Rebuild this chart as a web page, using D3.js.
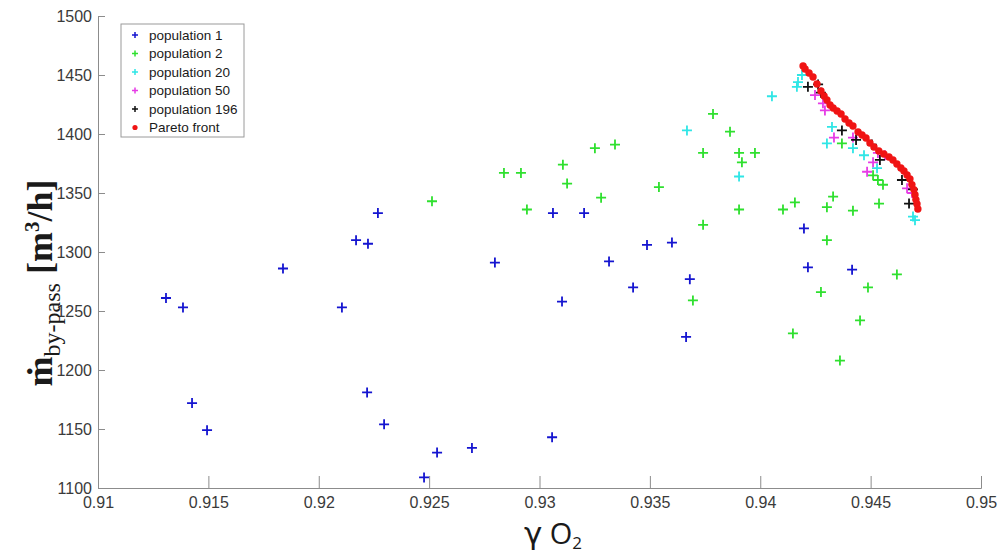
<!DOCTYPE html>
<html>
<head>
<meta charset="utf-8">
<script src="https://cdn.jsdelivr.net/npm/d3@7"></script>
<style>
  html, body { margin: 0; padding: 0; background: #ffffff; }
  svg { display: block; }
</style>
</head>
<body>
<svg id="chart" width="1008" height="556"></svg>
<script>
// Oxygen purity (γ O2) vs. by-pass mass flow for successive GA populations
const xTicks = [0.91, 0.915, 0.92, 0.925, 0.93, 0.935, 0.94, 0.945, 0.95];
const yTicks = [1100, 1150, 1200, 1250, 1300, 1350, 1400, 1450, 1500];

const pop1 = [
  [0.91308, 1261], [0.91385, 1253], [0.91426, 1172], [0.91494, 1149],
  [0.91838, 1286], [0.92105, 1253], [0.92169, 1310], [0.92223, 1307],
  [0.92268, 1333], [0.92219, 1181], [0.92296, 1154], [0.92477, 1109],
  [0.92536, 1130], [0.92694, 1134], [0.92798, 1291], [0.93057, 1143],
  [0.93061, 1333], [0.93102, 1258], [0.93202, 1333], [0.93315, 1292],
  [0.93424, 1270], [0.93487, 1306], [0.93600, 1308], [0.93664, 1228],
  [0.93681, 1277], [0.94198, 1320], [0.94216, 1287], [0.94416, 1285]
];

const pop2 = [
  [0.92513, 1343], [0.92839, 1367], [0.92916, 1367], [0.92943, 1336],
  [0.93106, 1374], [0.93125, 1358], [0.93251, 1388], [0.93342, 1391],
  [0.93279, 1346], [0.93541, 1355], [0.93741, 1384], [0.93786, 1417],
  [0.93741, 1323], [0.93695, 1259], [0.93863, 1402], [0.93904, 1384],
  [0.93976, 1384], [0.93917, 1376], [0.93904, 1336], [0.94103, 1336],
  [0.94157, 1342], [0.94330, 1347], [0.94302, 1338], [0.94420, 1335],
  [0.94538, 1341], [0.94302, 1310], [0.94619, 1281], [0.94488, 1270],
  [0.94275, 1266], [0.94452, 1242], [0.94148, 1231], [0.94361, 1208],
  [0.94370, 1392], [0.94511, 1365], [0.94533, 1361], [0.94556, 1357]
];

const pop20 = [
  [0.93668, 1403], [0.94053, 1432], [0.93904, 1364], [0.94171, 1444],
  [0.94166, 1440], [0.94189, 1450], [0.94325, 1406], [0.94302, 1392],
  [0.94420, 1388], [0.94470, 1382], [0.94529, 1371], [0.94692, 1330],
  [0.94701, 1327]
];

const pop50 = [
  [0.94248, 1433], [0.94293, 1420], [0.94284, 1426], [0.94334, 1397],
  [0.94420, 1397], [0.94484, 1368], [0.94511, 1376], [0.94565, 1382],
  [0.94533, 1384], [0.94665, 1354], [0.94688, 1350]
];

const pop196 = [
  [0.94216, 1440], [0.94262, 1442], [0.94275, 1435], [0.94370, 1403],
  [0.94434, 1395], [0.94506, 1391], [0.94542, 1378], [0.94642, 1361],
  [0.94692, 1353], [0.94674, 1341]
];

const pareto = [
  [0.94194, 1457.6], [0.94203, 1455.1], [0.94221, 1451.7], [0.94239, 1448.3],
  [0.94257, 1442.4], [0.94275, 1436.4], [0.94289, 1432.2], [0.94302, 1428.8],
  [0.94316, 1424.6], [0.94330, 1422.0], [0.94348, 1419.5], [0.94366, 1416.9],
  [0.94384, 1412.7], [0.94402, 1409.3], [0.94420, 1406.8], [0.94443, 1401.7],
  [0.94461, 1399.2], [0.94479, 1396.6], [0.94497, 1392.4], [0.94515, 1389.0],
  [0.94537, 1385.6], [0.94560, 1383.1], [0.94583, 1380.5], [0.94601, 1378.0],
  [0.94619, 1374.6], [0.94637, 1371.2], [0.94651, 1368.6], [0.94665, 1365.3],
  [0.94678, 1361.9], [0.94687, 1357.1], [0.94696, 1352.9], [0.94701, 1348.6],
  [0.94705, 1344.4], [0.94710, 1340.7], [0.94714, 1336.4]
];

const seriesNames = ["population 1", "population 2", "population 20",
                     "population 50", "population 196", "Pareto front"];
const seriesColors = ["#1515d0", "#2fe02f", "#2fe6e6", "#e63ce6", "#111111", "#f01414"];

const svg = d3.select("#chart");
const M = { left: 98, right: 981, top: 16, bottom: 488 };

const x = d3.scaleLinear().domain([0.91, 0.95]).range([M.left, M.right]);
const y = d3.scaleLinear().domain([1100, 1500]).range([M.bottom, M.top]);

const axisColor = "#8c8c8c";
const labelColor = "#3a3a3a";

// x axis, ticks pointing into the plot
const gx = svg.append("g").attr("transform", `translate(0,${M.bottom})`)
  .call(d3.axisBottom(x).tickValues(xTicks).tickSize(-12).tickPadding(9)
        .tickFormat(d => String(+d.toFixed(3))));
gx.select(".domain").attr("stroke", axisColor).attr("stroke-width", 1);
gx.selectAll(".tick line").attr("stroke", axisColor);
gx.selectAll(".tick text")
  .attr("fill", labelColor)
  .attr("font-family", "Liberation Sans, Arial, sans-serif")
  .attr("font-size", 16);

// y axis
const gy = svg.append("g").attr("transform", `translate(${M.left},0)`)
  .call(d3.axisLeft(y).tickValues(yTicks).tickSize(-7).tickPadding(6)
        .tickFormat(d3.format("d")));
gy.select(".domain").attr("stroke", axisColor).attr("stroke-width", 1);
gy.selectAll(".tick line").attr("stroke", axisColor);
gy.selectAll(".tick text")
  .attr("fill", labelColor)
  .attr("font-family", "Liberation Sans, Arial, sans-serif")
  .attr("font-size", 16);

// plus markers
const plusPath = s => `M${-s},0H${s}M0,${-s}V${s}`;

function drawPlus(data, color) {
  svg.append("g")
    .selectAll("path")
    .data(data)
    .join("path")
    .attr("transform", d => `translate(${x(d[0])},${y(d[1])})`)
    .attr("d", plusPath(5))
    .attr("fill", "none")
    .attr("stroke", color)
    .attr("stroke-width", 1.8);
}

drawPlus(pop1, seriesColors[0]);
drawPlus(pop2, seriesColors[1]);
drawPlus(pop20, seriesColors[2]);
drawPlus(pop50, seriesColors[3]);
drawPlus(pop196, seriesColors[4]);

svg.append("g")
  .selectAll("circle")
  .data(pareto)
  .join("circle")
  .attr("cx", d => x(d[0]))
  .attr("cy", d => y(d[1]))
  .attr("r", 3.7)
  .attr("fill", seriesColors[5]);

// legend
const lg = svg.append("g");
lg.append("rect")
  .attr("x", 121).attr("y", 24).attr("width", 123).attr("height", 113)
  .attr("fill", "#ffffff").attr("stroke", "#9a9a9a").attr("stroke-width", 1);
seriesNames.forEach((name, i) => {
  const cy = 35 + i * 18.5;
  if (i < 5) {
    lg.append("path")
      .attr("transform", `translate(135,${cy})`)
      .attr("d", plusPath(3))
      .attr("fill", "none")
      .attr("stroke", seriesColors[i])
      .attr("stroke-width", 1.5);
  } else {
    lg.append("circle").attr("cx", 135).attr("cy", cy).attr("r", 2.6)
      .attr("fill", seriesColors[i]);
  }
  lg.append("text")
    .attr("x", 149).attr("y", cy).attr("dy", "0.35em")
    .attr("font-family", "Liberation Sans, Arial, sans-serif")
    .attr("font-size", 13.5)
    .attr("fill", "#1a1a1a")
    .text(name);
});

// y axis title: mass flow through the by-pass
const yt = svg.append("text")
  .attr("transform", "translate(52,283) rotate(-90)")
  .attr("text-anchor", "middle")
  .attr("font-family", "Liberation Serif, Times New Roman, serif")
  .attr("font-weight", "bold")
  .attr("font-size", 36)
  .attr("fill", "#1a1a1a");
yt.append("tspan").text("ṁ");
yt.append("tspan").attr("font-size", 24).attr("font-weight", "normal").attr("dy", 8).text("by-pass");
yt.append("tspan").attr("dy", -8).text(" [m");
yt.append("tspan").attr("font-size", 21).attr("dy", -13).text("3");
yt.append("tspan").attr("dy", 13).text("/h]");

// x axis title: oxygen purity
const xt = svg.append("text")
  .attr("x", 553).attr("y", 544)
  .attr("text-anchor", "middle")
  .attr("font-family", "Open Sans, DejaVu Sans, sans-serif")
  .attr("font-size", 29)
  .attr("fill", "#1a1a1a");
xt.append("tspan").attr("font-family", "DejaVu Sans, sans-serif").attr("font-size", 31).text("γ");
xt.append("tspan").text(" O");
xt.append("tspan").attr("font-size", 17).attr("dy", 5).text("2");
</script>
</body>
</html>
